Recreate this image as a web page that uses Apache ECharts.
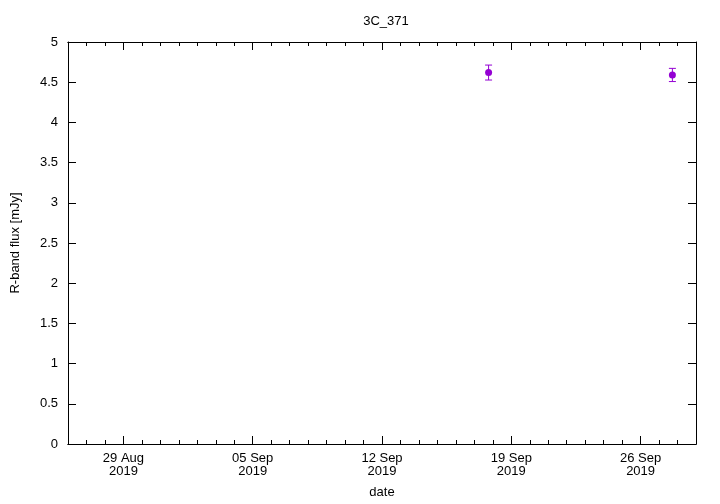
<!DOCTYPE html>
<html>
<head>
<meta charset="utf-8">
<script src="https://cdn.jsdelivr.net/npm/echarts@6/dist/echarts.min.js"></script>
<style>html,body{margin:0;padding:0;background:#fff;overflow:hidden}#c{width:720px;height:504px}</style>
</head>
<body>
<div id="c"></div>
<script>
// Data
const obsDates = ['2019-09-17T18:30:00Z', '2019-09-27T17:20:00Z'];
const fluxValues = [4.62, 4.59];
const fluxErrors = [0.093, 0.082];
const majorTickDates = ['2019-08-29', '2019-09-05', '2019-09-12', '2019-09-19', '2019-09-26'];
const axisStart = '2019-08-26';
const axisEnd = '2019-09-29';
const yTicks = [0, 0.5, 1, 1.5, 2, 2.5, 3, 3.5, 4, 4.5, 5];

const DAY = 86400000;
const t = s => Date.parse(s.length === 10 ? s + 'T00:00:00Z' : s);
const xMin = t(axisStart), xMax = t(axisEnd);
const majors = majorTickDates.map(t);
const minors = [];
for (let v = xMin; v <= xMax; v += DAY) if (!majors.includes(v)) minors.push(v);
const months = ['Jan','Feb','Mar','Apr','May','Jun','Jul','Aug','Sep','Oct','Nov','Dec'];
const fmt = v => { const d = new Date(v); return String(d.getUTCDate()).padStart(2,'0') + ' ' + months[d.getUTCMonth()] + '\n' + d.getUTCFullYear(); };

const data = obsDates.map((d, i) => [t(d), fluxValues[i], fluxValues[i] - fluxErrors[i], fluxValues[i] + fluxErrors[i]]);
const color = '#9400d3';
const font = 'Liberation Sans, Arial, sans-serif';

function xAx(pos, ticks, len, labels) {
  return {
    type: 'value', min: xMin, max: xMax, position: pos, gridIndex: 0,
    axisLine: { show: true, onZero: false, lineStyle: { color: '#000', width: 1 } },
    axisTick: { show: true, inside: true, length: len, customValues: ticks, lineStyle: { color: '#000' } },
    axisLabel: labels ? { show: true, customValues: majors, formatter: fmt, color: '#000', fontFamily: font, fontSize: 13, lineHeight: 13, margin: 8 } : { show: false },
    splitLine: { show: false }
  };
}

const chart = echarts.init(document.getElementById('c'), null, { renderer: 'canvas', width: 720, height: 504 });
chart.setOption({
  animation: false,
  backgroundColor: '#fff',
  title: { text: '3C_371', left: 381, top: 10, textAlign: 'center', textStyle: { fontFamily: font, fontSize: 13, fontWeight: 'normal', color: '#000' } },
  grid: { left: 68, right: 24, top: 42, bottom: 57, containLabel: false },
  xAxis: [
    Object.assign(xAx('bottom', majors, 8, true), { name: 'date', nameLocation: 'middle', nameGap: 42, nameTextStyle: { fontFamily: font, fontSize: 13, color: '#000' } }),
    xAx('bottom', minors, 4, false),
    xAx('top', majors, 8, false),
    xAx('top', minors, 4, false)
  ],
  yAxis: [
    {
      type: 'value', min: 0, max: 5, interval: 0.5, position: 'left',
      name: 'R-band flux [mJy]', nameLocation: 'middle', nameGap: 46, nameRotate: 90,
      nameTextStyle: { fontFamily: font, fontSize: 13, color: '#000' },
      axisLine: { show: true, lineStyle: { color: '#000' } },
      axisTick: { show: true, inside: true, length: 8, customValues: yTicks, lineStyle: { color: '#000' } },
      axisLabel: { color: '#000', fontFamily: font, fontSize: 13, margin: 10, customValues: yTicks },
      splitLine: { show: false }
    },
    {
      type: 'value', min: 0, max: 5, interval: 0.5, position: 'right',
      axisLine: { show: true, lineStyle: { color: '#000' } },
      axisTick: { show: true, inside: true, length: 8, lineStyle: { color: '#000' } },
      axisLabel: { show: false },
      splitLine: { show: false }
    }
  ],
  series: [
    {
      type: 'custom', xAxisIndex: 0, yAxisIndex: 0,
      data: data,
      encode: { x: 0, y: [1, 2, 3] },
      renderItem: function (params, api) {
        const x = api.value(0);
        const lo = api.coord([x, api.value(2)]);
        const hi = api.coord([x, api.value(3)]);
        const c = api.coord([x, api.value(1)]);
        const w = 3.5;
        const st = { stroke: color, lineWidth: 1, fill: null };
        return {
          type: 'group',
          children: [
            { type: 'line', shape: { x1: lo[0], y1: lo[1], x2: hi[0], y2: hi[1] }, style: st },
            { type: 'line', shape: { x1: lo[0] - w, y1: lo[1], x2: lo[0] + w, y2: lo[1] }, style: st },
            { type: 'line', shape: { x1: hi[0] - w, y1: hi[1], x2: hi[0] + w, y2: hi[1] }, style: st },
            { type: 'circle', shape: { cx: c[0], cy: c[1], r: 3.5 }, style: { fill: color } }
          ]
        };
      }
    }
  ]
});
</script>
</body>
</html>
